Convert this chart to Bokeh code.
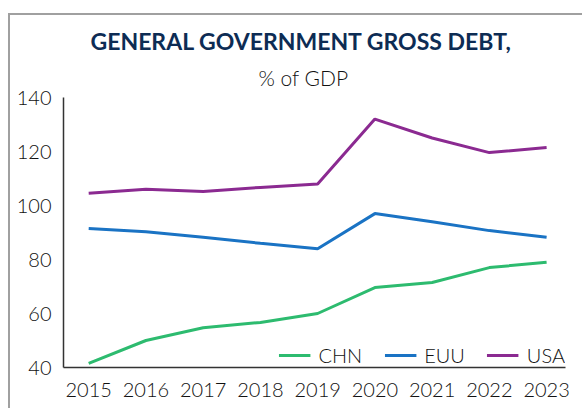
from bokeh.plotting import figure
from bokeh.models import Range1d, FixedTicker, Title, Legend, LegendItem
from bokeh.embed import file_html
from bokeh.resources import INLINE

years = [2015, 2016, 2017, 2018, 2019, 2020, 2021, 2022, 2023]
chn = [41.5, 50.0, 54.7, 56.7, 60.0, 69.6, 71.5, 77.0, 79.0]
euu = [91.5, 90.3, 88.2, 86.0, 84.0, 97.0, 94.0, 90.7, 88.2]
usa = [104.5, 106.0, 105.2, 106.7, 108.0, 132.0, 125.0, 119.6, 121.5]
series_names = ["CHN", "EUU", "USA"]
series_colors = ["#2dbb6f", "#1a73c4", "#8b2a91"]
y_ticks = [40, 60, 80, 100, 120, 140]

LIGHT = "Lato Light"

p = figure(width=574, height=395, output_backend="svg", toolbar_location=None,
           x_range=Range1d(2014.56, 2023.33), y_range=Range1d(40, 140),
           min_border_left=53, min_border_right=19, min_border_top=82, min_border_bottom=43)
p.margin = (13, 0, 0, 8)
p.styles = {"border-top": "2px solid #a0a0a0", "border-left": "2px solid #a0a0a0"}

p.outline_line_color = None
p.grid.grid_line_color = None
p.background_fill_color = "white"
p.border_fill_color = "white"

for ax in (p.xaxis[0], p.yaxis[0]):
    ax.axis_line_color = "#333333"
    ax.axis_line_width = 1.5
    ax.major_tick_line_color = None
    ax.minor_tick_line_color = None
    ax.major_label_text_font = LIGHT
    ax.major_label_text_font_size = "20px"
    ax.major_label_text_color = "#111111"

p.xaxis.ticker = FixedTicker(ticks=years)
p.yaxis.ticker = FixedTicker(ticks=y_ticks)
p.xaxis.major_label_standoff = 9
p.yaxis.major_label_standoff = 6

items = []
for name, vals, col in zip(series_names, [chn, euu, usa], series_colors):
    r = p.line(years, vals, line_color=col, line_width=3)
    items.append(LegendItem(label=name, renderers=[r]))

legend = Legend(items=items, orientation="horizontal", location="bottom_right",
                background_fill_alpha=0, border_line_color=None,
                label_text_font=LIGHT, label_text_font_size="20px", label_text_color="#111111",
                glyph_width=32, label_standoff=8, spacing=22, margin=0, padding=6)
p.add_layout(legend)

sub = Title(text="% of GDP", align="left", text_font=LIGHT, text_font_size="21px",
            text_font_style="normal", text_color="#111111", offset=195, standoff=16)
p.add_layout(sub, "above")
main = Title(text="GENERAL GOVERNMENT GROSS DEBT,", align="left", text_font="Lato",
             text_font_size="23px", text_font_style="bold", text_color="#0d2c54", offset=27,
             standoff=0)
p.add_layout(main, "above")

open("out.html", "w").write(file_html(p, INLINE))
